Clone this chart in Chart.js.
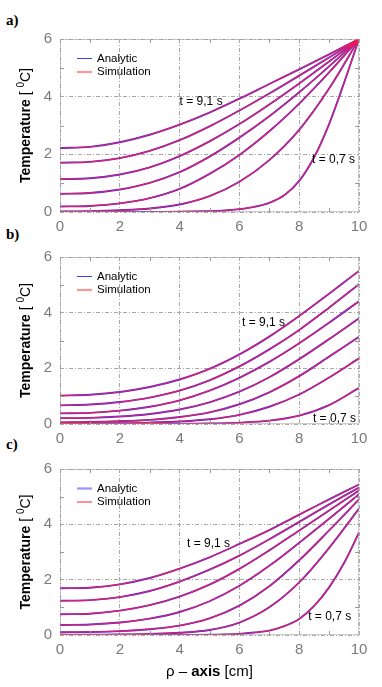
<!DOCTYPE html>
<html lang="en">
<head>
  <meta charset="UTF-8" />
  <title>Temperature profiles</title>
  <script src="https://cdn.jsdelivr.net/npm/chart.js"></script>
  <style>
    body { margin: 0; background: #fff; }
    #page { position: relative; width: 382px; height: 687px; overflow: hidden; }
    canvas { position: absolute; left: 0; }
    .tag { position: absolute; left: 6px; font: bold 15px "Liberation Serif", "DejaVu Serif", serif; color: #000; }
  </style>
</head>
<body>
  <div id="page">
    <div class="tag" style="top:12px">a)</div>
    <div class="tag" style="top:226px">b)</div>
    <div class="tag" style="top:436px">c)</div>
    <canvas id="chartA" width="382" height="218" style="top:22px"></canvas>
    <canvas id="chartB" width="382" height="212" style="top:240px"></canvas>
    <canvas id="chartC" width="382" height="235" style="top:452px"></canvas>
  </div>

  <script>
    // radius values (cm)
    const rho = [0, 1, 2, 3, 4, 5, 6, 7, 8, 9, 10];
    const rhoSteep = [0, 1, 2, 3, 4, 5, 5.5, 6, 6.5, 7, 7.5, 8, 8.5, 9, 9.5, 10];
    const xTicks = [0, 2, 4, 6, 8, 10];
    const yTicks = [0, 2, 4, 6];

    // panel a) - temperature [C], t = 9,1 s down to t = 0,7 s
    const a1 = [2.22, 2.26, 2.42, 2.68, 3.03, 3.45, 3.93, 4.44, 4.95, 5.47, 6];
    const a2 = [1.71, 1.74, 1.87, 2.12, 2.49, 2.97, 3.52, 4.11, 4.73, 5.36, 6];
    const a3 = [1.14, 1.17, 1.30, 1.55, 1.94, 2.45, 3.05, 3.73, 4.46, 5.22, 6];
    const a4 = [0.63, 0.66, 0.78, 1.01, 1.38, 1.92, 2.58, 3.32, 4.15, 5.05, 6];
    const a5 = [0.19, 0.21, 0.30, 0.48, 0.80, 1.32, 1.98, 2.80, 3.76, 4.84, 6];
    const a6 = [0.02, 0.03, 0.06, 0.12, 0.26, 0.55, 1.05, 1.80, 2.85, 4.28, 6];
    const a7 = [0, 0, 0, 0, 0.01, 0.03, 0.05, 0.10, 0.18, 0.32, 0.58, 1.08, 1.90, 3.05, 4.48, 6];

    // panel b)
    const b1 = [1.02, 1.05, 1.15, 1.33, 1.60, 1.98, 2.50, 3.14, 3.88, 4.68, 5.50];
    const b2 = [0.67, 0.70, 0.79, 0.95, 1.20, 1.57, 2.07, 2.68, 3.38, 4.18, 5.02];
    const b3 = [0.38, 0.40, 0.48, 0.62, 0.85, 1.20, 1.66, 2.23, 2.90, 3.64, 4.41];
    const b4 = [0.21, 0.22, 0.27, 0.36, 0.52, 0.78, 1.16, 1.68, 2.33, 3.05, 3.80];
    const b5 = [0.06, 0.07, 0.10, 0.15, 0.25, 0.42, 0.71, 1.14, 1.72, 2.42, 3.13];
    const b6 = [0.02, 0.02, 0.03, 0.05, 0.09, 0.17, 0.33, 0.62, 1.06, 1.67, 2.36];
    const b7 = [0, 0, 0, 0.01, 0.01, 0.02, 0.05, 0.12, 0.30, 0.68, 1.30];

    // panel c)
    const c1 = [1.69, 1.71, 1.83, 2.06, 2.40, 2.81, 3.29, 3.79, 4.35, 4.90, 5.44];
    const c2 = [1.24, 1.26, 1.37, 1.59, 1.93, 2.36, 2.87, 3.46, 4.09, 4.72, 5.33];
    const c3 = [0.75, 0.77, 0.88, 1.08, 1.39, 1.82, 2.39, 3.06, 3.78, 4.50, 5.22];
    const c4 = [0.36, 0.38, 0.45, 0.59, 0.83, 1.22, 1.78, 2.50, 3.33, 4.20, 5.09];
    const c5 = [0.10, 0.11, 0.14, 0.21, 0.34, 0.60, 1.06, 1.76, 2.70, 3.78, 4.90];
    const c6 = [0.01, 0.01, 0.02, 0.04, 0.08, 0.18, 0.45, 1.00, 1.90, 3.15, 4.57];
    const c7 = [0, 0, 0, 0, 0, 0.01, 0.02, 0.04, 0.09, 0.16, 0.32, 0.58, 1.05, 1.72, 2.60, 3.70];

    const seriesNames = ['Analytic', 'Simulation'];
    const timeLabels = ['t = 9,1 s', 't = 0,7 s'];

    const BLUE = 'rgb(55,55,255)';
    const RED = 'rgba(255,25,70,0.92)';
    const GRID = '#a8a8a8';
    const TICK = '#7a7a7a';

    function pts(xs, ys) {
      return xs.map((x, i) => ({ x: x, y: ys[i] }));
    }

    // extra drawing: frame, minor ticks, legend, curve labels, axis titles
    const decor = {
      id: 'decor',
      afterDraw(chart, args, o) {
        const ctx = chart.ctx;
        const ca = chart.chartArea;
        const xs = chart.scales.x, ys = chart.scales.y;
        ctx.save();

        // dotted frame
        ctx.strokeStyle = '#999';
        ctx.lineWidth = 1;
        ctx.setLineDash([1, 1]);
        ctx.strokeRect(ca.left + 0.5, ca.top + 0.5, ca.right - ca.left - 1, ca.bottom - ca.top - 1);
        ctx.setLineDash([]);

        // minor ticks
        ctx.strokeStyle = '#999';
        ctx.beginPath();
        [1, 3, 5, 7, 9].forEach(v => {
          const px = Math.round(xs.getPixelForValue(v)) + 0.5;
          ctx.moveTo(px, ca.bottom); ctx.lineTo(px, ca.bottom - 4);
          ctx.moveTo(px, ca.top); ctx.lineTo(px, ca.top + 4);
        });
        [1, 3, 5].forEach(v => {
          const py = Math.round(ys.getPixelForValue(v)) + 0.5;
          ctx.moveTo(ca.left, py); ctx.lineTo(ca.left + 4, py);
          ctx.moveTo(ca.right, py); ctx.lineTo(ca.right - 4, py);
        });
        ctx.stroke();

        // legend
        ctx.font = '11.5px "Liberation Sans", Arial, sans-serif';
        ctx.textBaseline = 'middle';
        ctx.textAlign = 'left';
        o.legend.forEach((it, i) => {
          const y = ca.top + 19.5 + i * 13.5;
          ctx.strokeStyle = it.color;
          ctx.lineWidth = it.width;
          ctx.beginPath();
          ctx.moveTo(ca.left + 17, y); ctx.lineTo(ca.left + 32, y);
          ctx.stroke();
          ctx.fillStyle = '#000';
          ctx.fillText(seriesNames[i], ca.left + 37, y);
        });

        // time labels
        ctx.font = '12px "Liberation Sans", Arial, sans-serif';
        o.labels.forEach((lb, i) => {
          ctx.fillText(timeLabels[i], xs.getPixelForValue(lb[0]), ys.getPixelForValue(lb[1]));
        });

        // y title: Temperature [ 0C] (0 raised)
        const midY = (ca.top + ca.bottom) / 2;
        ctx.translate(26, midY);
        ctx.rotate(-Math.PI / 2);
        const fB = 'bold 14px "Liberation Sans", Arial, sans-serif';
        const fN = '14px "Liberation Sans", Arial, sans-serif';
        const fS = '10px "Liberation Sans", Arial, sans-serif';
        const parts = [[fB, 'Temperature', 0], [fN, ' [ ', 0], [fS, '0', -5], [fN, 'C]', 0]];
        let total = 0;
        parts.forEach(p => { ctx.font = p[0]; total += ctx.measureText(p[1]).width; });
        let x = -total / 2;
        ctx.fillStyle = '#000';
        parts.forEach(p => {
          ctx.font = p[0];
          ctx.fillText(p[1], x, p[2]);
          x += ctx.measureText(p[1]).width;
        });
        ctx.setTransform(1, 0, 0, 1, 0, 0);

        // x title only on the bottom panel
        if (o.xTitle) {
          const n15 = '15px "Liberation Sans", Arial, sans-serif';
          const xp = [[n15, 'ρ – '], ['bold 15px "Liberation Sans", Arial, sans-serif', 'axis'], [n15, ' [cm]']];
          let tw = 0;
          xp.forEach(p => { ctx.font = p[0]; tw += ctx.measureText(p[1]).width; });
          let xx = (ca.left + ca.right) / 2 - tw / 2;
          xp.forEach(p => {
            ctx.font = p[0];
            ctx.fillText(p[1], xx, ca.bottom + 37);
            xx += ctx.measureText(p[1]).width;
          });
        }
        ctx.restore();
      }
    };

    function makeChart(id, curves, steepX, padTop, padBottom, legend, labels, xTitle) {
      const datasets = [];
      curves.forEach((ys, i) => {
        const xs = (i === curves.length - 1) ? steepX : rho;
        datasets.push({ label: 'Analytic', data: pts(xs, ys), borderColor: BLUE, borderWidth: 1.9,
          pointRadius: 0, tension: 0.35, fill: false, order: 2 });
        datasets.push({ label: 'Simulation', data: pts(xs, ys), borderColor: RED, borderWidth: 1.2,
          pointRadius: 0, tension: 0.35, fill: false, order: 1 });
      });

      return new Chart(document.getElementById(id), {
        type: 'line',
        data: { datasets: datasets },
        plugins: [decor],
        options: {
          responsive: false,
          animation: false,
          devicePixelRatio: 1,
          layout: { padding: { left: 0, right: 23, top: padTop, bottom: padBottom } },
          plugins: {
            legend: { display: false },
            tooltip: { enabled: false },
            decor: { legend: legend, labels: labels, xTitle: xTitle }
          },
          scales: {
            x: {
              type: 'linear', min: 0, max: 10,
              afterBuildTicks: s => { s.ticks = xTicks.map(v => ({ value: v })); },
              afterFit: s => { s.height = 28; },
              ticks: { color: TICK, padding: 6, font: { family: '"Liberation Sans", Arial, sans-serif', size: 15 } },
              grid: { color: GRID, drawTicks: false, lineWidth: 1 },
              border: { display: false, dash: [4, 2, 1, 2] }
            },
            y: {
              min: 0, max: 6,
              afterBuildTicks: s => { s.ticks = yTicks.map(v => ({ value: v })); },
              afterFit: s => { s.width = 60; },
              ticks: { color: TICK, padding: 8, font: { family: '"Liberation Sans", Arial, sans-serif', size: 15 } },
              grid: { color: GRID, drawTicks: false, lineWidth: 1 },
              border: { display: false, dash: [4, 2, 1, 2] }
            }
          }
        }
      });
    }

    const legendAB = [{ color: 'rgb(60,60,255)', width: 1 }, { color: 'rgb(255,150,150)', width: 2.2 }];
    const legendC = [{ color: 'rgb(150,150,255)', width: 2.2 }, { color: 'rgb(255,30,60)', width: 1 }];

    makeChart('chartA', [a1, a2, a3, a4, a5, a6, a7], rhoSteep, 11, 0, legendAB,
      [[4.0, 3.83], [8.43, 1.81]], false);
    makeChart('chartB', [b1, b2, b3, b4, b5, b6, b7], rho, 4, 0, legendAB,
      [[6.09, 3.63], [8.46, 0.2]], false);
    makeChart('chartC', [c1, c2, c3, c4, c5, c6, c7], rhoSteep, 4, 24, legendC,
      [[4.25, 3.29], [8.3, 0.67]], true);
  </script>
</body>
</html>
